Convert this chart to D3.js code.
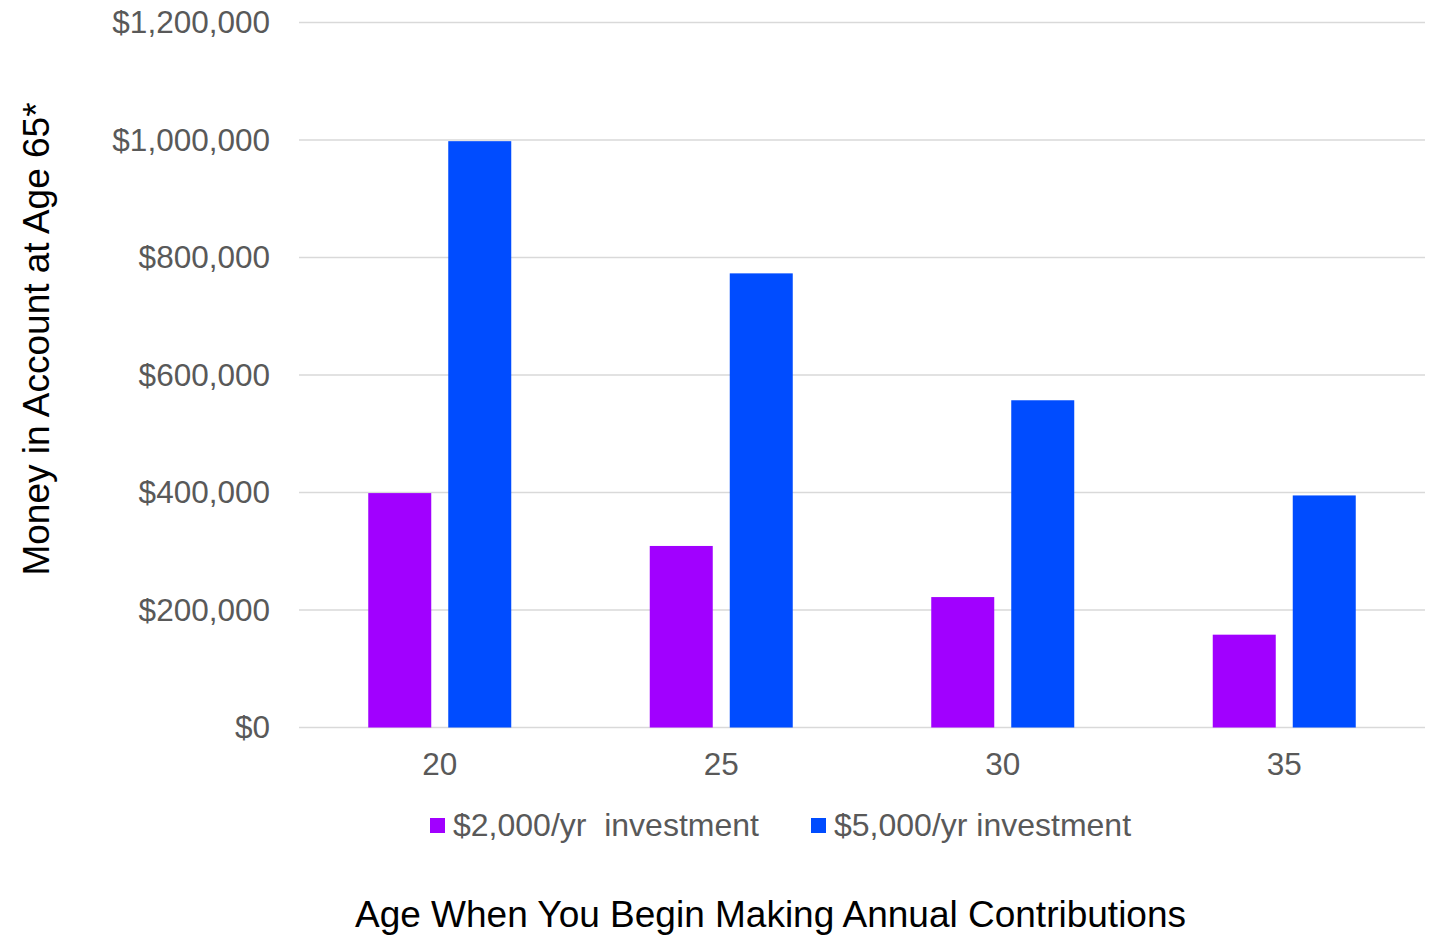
<!DOCTYPE html>
<html>
<head>
<meta charset="utf-8">
<script src="https://cdn.jsdelivr.net/npm/d3@7"></script>
<style>
  html, body { margin: 0; padding: 0; background: #ffffff; }
  svg { display: block; font-family: "Liberation Sans", Arial, sans-serif; }
</style>
</head>
<body>
<svg id="chart" width="1438" height="935"></svg>
<script>
// Starting age for annual contributions
const categories = ["20", "25", "30", "35"];
// Series names
const seriesNames = ["$2,000/yr  investment", "$5,000/yr investment"];
// Balance at age 65 for each contribution level
const values2000 = [399000, 309000, 222000, 158000];
const values5000 = [998000, 773000, 557000, 395000];
// Y axis ticks
const yTicks = [0, 200000, 400000, 600000, 800000, 1000000, 1200000];
const colors = ["#a100ff", "#004cff"];

const svg = d3.select("#chart");
const margin = { left: 299, right: 13, top: 22.5, bottom: 207.5 };
const W = 1438, H = 935;
const plotRight = W - margin.right;
const plotBottom = H - margin.bottom;

const x0 = d3.scaleBand().domain(categories).range([margin.left, plotRight]).padding(0);
const groupW = x0.bandwidth() * 0.508;
const x1 = d3.scaleBand().domain([0, 1]).range([0, groupW]).paddingInner(0.2125).paddingOuter(0);
const y = d3.scaleLinear().domain([0, 1200000]).range([plotBottom, margin.top]);

const fmt = v => "$" + d3.format(",")(v);

// Gridlines
svg.append("g")
  .selectAll("line")
  .data(yTicks)
  .join("line")
  .attr("x1", margin.left)
  .attr("x2", plotRight)
  .attr("y1", d => y(d))
  .attr("y2", d => y(d))
  .attr("stroke", "#d9d9d9")
  .attr("stroke-width", 1.5);

// Y axis labels
const yAxis = d3.axisLeft(y).tickValues(yTicks).tickFormat(fmt).tickSize(0).tickPadding(29);
const gy = svg.append("g").attr("transform", `translate(${margin.left},0)`).call(yAxis);
gy.select(".domain").remove();
gy.selectAll("text")
  .attr("fill", "#595959")
  .attr("font-size", 31.5)
  .attr("font-family", "'Liberation Sans', Arial, sans-serif");

// X axis labels
const xAxis = d3.axisBottom(x0).tickSize(0).tickPadding(25);
const gx = svg.append("g").attr("transform", `translate(0,${plotBottom})`).call(xAxis);
gx.select(".domain").remove();
gx.selectAll("text")
  .attr("fill", "#595959")
  .attr("font-size", 31.5)
  .attr("font-family", "'Liberation Sans', Arial, sans-serif");

// Bars
const series = [values2000, values5000];
const groups = svg.append("g")
  .selectAll("g")
  .data(categories)
  .join("g")
  .attr("transform", d => `translate(${x0(d) + (x0.bandwidth() - groupW) / 2},0)`);

groups.selectAll("rect")
  .data((d, i) => series.map((s, k) => ({ k, v: s[i] })))
  .join("rect")
  .attr("x", d => x1(d.k))
  .attr("width", x1.bandwidth())
  .attr("y", d => y(d.v))
  .attr("height", d => y(0) - y(d.v))
  .attr("fill", d => colors[d.k]);

// Legend
const legendItems = [
  { name: seriesNames[0], color: colors[0], x: 430 },
  { name: seriesNames[1], color: colors[1], x: 811 }
];
const lg = svg.append("g")
  .selectAll("g")
  .data(legendItems)
  .join("g")
  .attr("transform", d => `translate(${d.x},818)`);
lg.append("rect").attr("width", 15).attr("height", 15).attr("fill", d => d.color);
lg.append("text")
  .attr("x", 23)
  .attr("y", 18)
  .attr("fill", "#595959")
  .attr("font-size", 32)
  .attr("xml:space", "preserve")
  .style("white-space", "pre")
  .text(d => d.name);

// Axis titles
svg.append("text")
  .attr("transform", `translate(49,${339}) rotate(-90)`)
  .attr("text-anchor", "middle")
  .attr("font-size", 37)
  .attr("fill", "#000")
  .text("Money in Account at Age 65*");

svg.append("text")
  .attr("x", 770.5)
  .attr("y", 927)
  .attr("text-anchor", "middle")
  .attr("font-size", 37)
  .attr("fill", "#000")
  .text("Age When You Begin Making Annual Contributions");
</script>
</body>
</html>
